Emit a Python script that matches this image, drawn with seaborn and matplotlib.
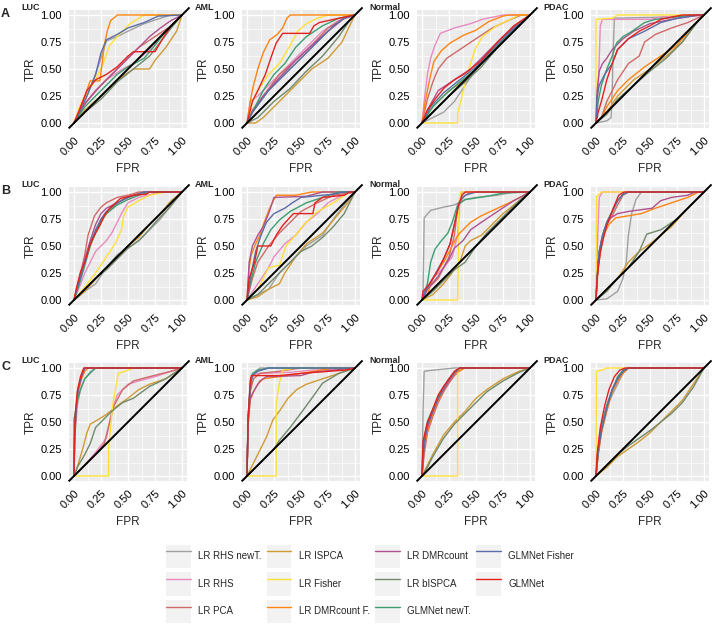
"""ROC curves of the classifiers, three feature sets (A-C) x four sample groups."""
import matplotlib
matplotlib.use("Agg")
import matplotlib.pyplot as plt
from matplotlib.legend_handler import HandlerLine2D
from matplotlib.lines import Line2D
from matplotlib.patches import Rectangle
from matplotlib.ticker import MultipleLocator
import pandas as pd
import seaborn as sns

METHODS = ["LR RHS newT.", "LR RHS", "LR PCA", "LR ISPCA", "LR Fisher",
           "LR DMRcount F.", "LR DMRcount", "LR bISPCA", "GLMNet newT.",
           "GLMNet Fisher", "GLMNet"]
KEYS = ["rhsT", "rhs", "pca", "ispca", "fisher", "dmrF", "dmr", "bispca",
        "glmT", "glmF", "glm"]
COLORS = ["#A0A0A0", "#E98BC0", "#D06A68", "#D09A35", "#FFE03A", "#FF8411",
          "#B0518F", "#71896A", "#3C9E70", "#5B6DA6", "#E4211F"]
ROWS = ["A", "B", "C"]
GROUPS = ["LUC", "AML", "Normal", "PDAC"]
TICKS = [0.0, 0.25, 0.5, 0.75, 1.0]
TICK_LABELS = ["0.00", "0.25", "0.50", "0.75", "1.00"]

# (FPR, TPR) points
A_LUC = {
    "rhsT": [(0, 0), (0.05, 0.1), (0.12, 0.25), (0.2, 0.45), (0.25, 0.6), (0.3, 0.76), (0.4, 0.8), (0.5, 0.85), (0.65, 0.92), (0.8, 0.97), (0.9, 1), (1, 1)],
    "rhs": [(0, 0), (0.05, 0.1), (0.12, 0.2), (0.2, 0.3), (0.3, 0.4), (0.45, 0.5), (0.55, 0.55), (0.7, 0.68), (0.85, 0.85), (1, 1)],
    "pca": [(0, 0), (0.08, 0.15), (0.2, 0.3), (0.35, 0.45), (0.5, 0.6), (0.6, 0.7), (0.75, 0.8), (0.9, 0.9), (1, 1)],
    "ispca": [(0, 0), (0.1, 0.12), (0.25, 0.25), (0.4, 0.4), (0.55, 0.5), (0.7, 0.5), (0.75, 0.58), (0.85, 0.7), (0.95, 0.85), (1, 1)],
    "fisher": [(0, 0), (0.05, 0.15), (0.12, 0.28), (0.2, 0.4), (0.27, 0.55), (0.33, 0.72), (0.42, 0.82), (0.52, 0.92), (0.6, 0.97), (0.65, 1), (1, 1)],
    "dmrF": [(0, 0), (0.05, 0.12), (0.1, 0.25), (0.15, 0.39), (0.24, 0.39), (0.26, 0.55), (0.28, 0.72), (0.31, 0.86), (0.34, 0.95), (0.38, 0.98), (0.4, 1), (1, 1)],
    "dmr": [(0, 0), (0.1, 0.18), (0.25, 0.35), (0.35, 0.45), (0.5, 0.6), (0.6, 0.7), (0.7, 0.8), (0.8, 0.88), (0.9, 0.95), (1, 1)],
    "bispca": [(0, 0), (0.1, 0.1), (0.25, 0.22), (0.4, 0.38), (0.55, 0.5), (0.7, 0.62), (0.8, 0.75), (0.9, 0.88), (1, 1)],
    "glmT": [(0, 0), (0.1, 0.15), (0.25, 0.3), (0.4, 0.45), (0.5, 0.52), (0.65, 0.6), (0.75, 0.72), (0.85, 0.85), (0.95, 0.95), (1, 1)],
    "glmF": [(0, 0), (0.05, 0.1), (0.12, 0.25), (0.2, 0.45), (0.25, 0.65), (0.3, 0.77), (0.4, 0.82), (0.5, 0.88), (0.65, 0.93), (0.78, 0.99), (1, 1)],
    "glm": [(0, 0), (0.05, 0.12), (0.12, 0.3), (0.2, 0.4), (0.3, 0.45), (0.4, 0.52), (0.5, 0.62), (0.55, 0.66), (0.75, 0.66), (0.82, 0.78), (0.9, 0.9), (1, 1)],
}
A_AML = {
    "rhsT": [(0, 0), (0.05, 0.1), (0.15, 0.25), (0.3, 0.42), (0.45, 0.55), (0.6, 0.7), (0.75, 0.85), (0.9, 0.97), (1, 1)],
    "rhs": [(0, 0), (0.03, 0.2), (0.1, 0.25), (0.25, 0.4), (0.4, 0.55), (0.55, 0.7), (0.7, 0.85), (0.85, 0.95), (1, 1)],
    "pca": [(0, 0), (0.05, 0.12), (0.15, 0.25), (0.3, 0.45), (0.45, 0.58), (0.6, 0.72), (0.75, 0.88), (0.9, 0.97), (1, 1)],
    "ispca": [(0, 0), (0.08, 0), (0.15, 0.05), (0.3, 0.2), (0.45, 0.35), (0.6, 0.5), (0.75, 0.6), (0.88, 0.75), (0.95, 0.9), (1, 1)],
    "fisher": [(0, 0), (0.05, 0.2), (0.1, 0.3), (0.2, 0.45), (0.3, 0.55), (0.4, 0.72), (0.47, 0.85), (0.55, 0.92), (0.65, 0.97), (0.75, 1), (1, 1)],
    "dmrF": [(0, 0), (0.03, 0.2), (0.06, 0.35), (0.1, 0.5), (0.15, 0.65), (0.21, 0.77), (0.28, 0.82), (0.33, 0.88), (0.37, 0.97), (0.4, 1), (1, 1)],
    "dmr": [(0, 0), (0.05, 0.1), (0.15, 0.25), (0.3, 0.42), (0.45, 0.58), (0.6, 0.72), (0.75, 0.85), (0.9, 0.97), (1, 1)],
    "bispca": [(0, 0), (0.1, 0.05), (0.25, 0.2), (0.4, 0.32), (0.55, 0.48), (0.7, 0.62), (0.85, 0.8), (0.95, 0.95), (1, 1)],
    "glmT": [(0, 0), (0.05, 0.1), (0.15, 0.3), (0.25, 0.45), (0.35, 0.55), (0.45, 0.7), (0.55, 0.8), (0.7, 0.9), (0.85, 0.97), (1, 1)],
    "glmF": [(0, 0), (0.05, 0.1), (0.2, 0.3), (0.35, 0.45), (0.5, 0.6), (0.65, 0.75), (0.8, 0.9), (0.9, 0.97), (1, 1)],
    "glm": [(0, 0), (0.05, 0.2), (0.1, 0.3), (0.17, 0.45), (0.22, 0.6), (0.27, 0.74), (0.33, 0.83), (0.58, 0.83), (0.62, 0.9), (0.67, 0.93), (0.85, 0.97), (1, 1)],
}
A_NORMAL = {
    "rhsT": [(0, 0), (0.1, 0.05), (0.2, 0.1), (0.3, 0.2), (0.4, 0.35), (0.5, 0.5), (0.6, 0.65), (0.75, 0.8), (0.9, 0.93), (1, 1)],
    "rhs": [(0, 0), (0.02, 0.2), (0.05, 0.45), (0.08, 0.6), (0.12, 0.72), (0.17, 0.83), (0.3, 0.88), (0.45, 0.92), (0.56, 0.96), (0.75, 1), (1, 1)],
    "pca": [(0, 0), (0.05, 0.22), (0.1, 0.38), (0.15, 0.5), (0.23, 0.6), (0.35, 0.68), (0.5, 0.78), (0.65, 0.88), (0.8, 0.95), (0.92, 1), (1, 1)],
    "ispca": [(0, 0), (0.1, 0.15), (0.25, 0.3), (0.4, 0.4), (0.55, 0.55), (0.7, 0.72), (0.85, 0.88), (1, 1)],
    "fisher": [(0, 0), (0.33, 0), (0.33, 0.09), (0.4, 0.37), (0.45, 0.55), (0.49, 0.68), (0.56, 0.8), (0.69, 0.9), (0.84, 0.97), (0.9, 1), (1, 1)],
    "dmrF": [(0, 0), (0.03, 0.2), (0.07, 0.4), (0.11, 0.57), (0.18, 0.67), (0.26, 0.74), (0.38, 0.81), (0.5, 0.86), (0.62, 0.94), (0.75, 0.99), (0.8, 1), (1, 1)],
    "dmr": [(0, 0), (0.05, 0.12), (0.15, 0.3), (0.3, 0.4), (0.45, 0.5), (0.6, 0.65), (0.75, 0.8), (0.9, 0.93), (1, 1)],
    "bispca": [(0, 0), (0.1, 0.1), (0.25, 0.25), (0.4, 0.38), (0.55, 0.52), (0.7, 0.7), (0.85, 0.85), (1, 1)],
    "glmT": [(0, 0), (0.1, 0.15), (0.2, 0.25), (0.35, 0.38), (0.5, 0.5), (0.65, 0.66), (0.8, 0.82), (0.9, 0.92), (1, 1)],
    "glmF": [(0, 0), (0.08, 0.15), (0.2, 0.28), (0.35, 0.4), (0.5, 0.52), (0.65, 0.68), (0.8, 0.83), (1, 1)],
    "glm": [(0, 0), (0.05, 0.12), (0.12, 0.22), (0.2, 0.32), (0.3, 0.4), (0.4, 0.46), (0.55, 0.58), (0.7, 0.75), (0.85, 0.9), (1, 1)],
}
A_PDAC = {
    "rhsT": [(0, 0), (0.1, 0.02), (0.14, 0.05), (0.15, 0.3), (0.16, 0.7), (0.17, 0.97), (0.6, 0.98), (0.9, 1), (1, 1)],
    "rhs": [(0, 0), (0.02, 0.3), (0.03, 0.6), (0.04, 0.9), (0.06, 0.96), (0.5, 0.96), (0.6, 0.98), (0.85, 1), (1, 1)],
    "pca": [(0, 0), (0.05, 0.05), (0.1, 0.2), (0.2, 0.4), (0.3, 0.55), (0.4, 0.62), (0.45, 0.75), (0.55, 0.82), (0.7, 0.88), (0.85, 0.93), (1, 1)],
    "ispca": [(0, 0), (0.1, 0.1), (0.2, 0.25), (0.35, 0.4), (0.5, 0.5), (0.65, 0.62), (0.8, 0.75), (0.92, 0.92), (1, 1)],
    "fisher": [(0, 0), (0, 0.96), (0.15, 0.97), (0.2, 1), (1, 1)],
    "dmrF": [(0, 0), (0.05, 0.05), (0.1, 0.15), (0.2, 0.3), (0.3, 0.4), (0.45, 0.52), (0.6, 0.62), (0.75, 0.72), (0.9, 0.9), (1, 1)],
    "dmr": [(0, 0), (0.01, 0.3), (0.03, 0.48), (0.06, 0.55), (0.1, 0.6), (0.15, 0.68), (0.25, 0.78), (0.35, 0.85), (0.5, 0.92), (0.7, 0.96), (0.9, 0.99), (1, 1)],
    "bispca": [(0, 0), (0.1, 0.08), (0.2, 0.22), (0.35, 0.35), (0.5, 0.48), (0.65, 0.6), (0.8, 0.75), (0.95, 0.95), (1, 1)],
    "glmT": [(0, 0), (0.02, 0.2), (0.05, 0.35), (0.1, 0.5), (0.15, 0.62), (0.19, 0.74), (0.25, 0.8), (0.32, 0.84), (0.45, 0.93), (0.55, 0.96), (0.9, 1), (1, 1)],
    "glmF": [(0, 0), (0.01, 0.25), (0.03, 0.35), (0.08, 0.45), (0.15, 0.55), (0.2, 0.68), (0.3, 0.78), (0.45, 0.85), (0.6, 0.93), (0.75, 0.97), (0.95, 1), (1, 1)],
    "glm": [(0, 0), (0.02, 0.1), (0.05, 0.2), (0.1, 0.4), (0.15, 0.55), (0.2, 0.68), (0.3, 0.78), (0.4, 0.85), (0.5, 0.9), (0.6, 0.96), (0.8, 1), (1, 1)],
}
B_LUC = {
    "rhsT": [(0, 0), (0.1, 0.08), (0.2, 0.15), (0.3, 0.3), (0.4, 0.42), (0.5, 0.48), (0.6, 0.55), (0.7, 0.65), (0.8, 0.75), (0.9, 0.88), (1, 1)],
    "rhs": [(0, 0), (0.05, 0.12), (0.1, 0.25), (0.2, 0.45), (0.3, 0.55), (0.35, 0.62), (0.4, 0.72), (0.45, 0.82), (0.5, 0.9), (0.6, 0.95), (0.8, 1), (1, 1)],
    "pca": [(0, 0), (0.05, 0.2), (0.1, 0.42), (0.13, 0.6), (0.19, 0.78), (0.25, 0.86), (0.3, 0.9), (0.4, 0.95), (0.5, 0.97), (0.6, 1), (1, 1)],
    "ispca": [(0, 0), (0.1, 0.08), (0.25, 0.25), (0.4, 0.4), (0.5, 0.5), (0.6, 0.58), (0.7, 0.7), (0.8, 0.8), (0.9, 0.92), (1, 1)],
    "fisher": [(0, 0), (0.1, 0.12), (0.2, 0.25), (0.3, 0.4), (0.38, 0.52), (0.44, 0.65), (0.46, 0.78), (0.5, 0.86), (0.6, 0.92), (0.7, 0.97), (0.85, 1), (1, 1)],
    "dmrF": [(0, 0), (0.05, 0.2), (0.1, 0.35), (0.15, 0.5), (0.2, 0.62), (0.25, 0.72), (0.3, 0.8), (0.37, 0.87), (0.45, 0.93), (0.55, 0.97), (0.65, 1), (1, 1)],
    "dmr": [(0, 0), (0.05, 0.2), (0.1, 0.38), (0.15, 0.55), (0.2, 0.7), (0.25, 0.8), (0.3, 0.85), (0.4, 0.9), (0.5, 0.95), (0.65, 1), (1, 1)],
    "bispca": [(0, 0), (0.1, 0.1), (0.2, 0.2), (0.3, 0.28), (0.4, 0.38), (0.5, 0.48), (0.6, 0.55), (0.65, 0.6), (0.72, 0.68), (0.78, 0.75), (0.88, 0.85), (1, 1)],
    "glmT": [(0, 0), (0.05, 0.15), (0.1, 0.32), (0.15, 0.5), (0.2, 0.63), (0.25, 0.73), (0.3, 0.8), (0.4, 0.88), (0.5, 0.93), (0.6, 0.97), (0.7, 1), (1, 1)],
    "glmF": [(0, 0), (0.05, 0.18), (0.1, 0.35), (0.15, 0.52), (0.2, 0.65), (0.25, 0.75), (0.3, 0.82), (0.4, 0.9), (0.5, 0.95), (0.65, 1), (1, 1)],
    "glm": [(0, 0), (0.02, 0.1), (0.06, 0.26), (0.1, 0.35), (0.15, 0.52), (0.2, 0.62), (0.24, 0.69), (0.28, 0.78), (0.33, 0.85), (0.43, 0.94), (0.55, 0.97), (0.67, 0.98), (0.7, 1), (1, 1)],
}
B_AML = {
    "rhsT": [(0, 0), (0.1, 0.05), (0.2, 0.1), (0.3, 0.25), (0.4, 0.35), (0.55, 0.5), (0.7, 0.6), (0.8, 0.75), (0.9, 0.88), (1, 1)],
    "rhs": [(0, 0), (0.1, 0.15), (0.2, 0.3), (0.25, 0.4), (0.35, 0.52), (0.45, 0.6), (0.55, 0.72), (0.65, 0.8), (0.75, 0.9), (0.9, 0.98), (1, 1)],
    "pca": [(0, 0), (0.05, 0.2), (0.1, 0.35), (0.2, 0.5), (0.3, 0.62), (0.4, 0.72), (0.5, 0.82), (0.65, 0.9), (0.8, 0.97), (1, 1)],
    "ispca": [(0, 0), (0.1, 0.03), (0.2, 0.1), (0.3, 0.15), (0.35, 0.25), (0.45, 0.4), (0.55, 0.52), (0.7, 0.62), (0.85, 0.8), (0.95, 0.92), (1, 1)],
    "fisher": [(0, 0), (0.1, 0.1), (0.2, 0.3), (0.3, 0.32), (0.36, 0.5), (0.45, 0.6), (0.52, 0.69), (0.64, 0.81), (0.8, 0.9), (0.95, 1), (1, 1)],
    "dmrF": [(0, 0), (0.02, 0.3), (0.04, 0.42), (0.08, 0.52), (0.12, 0.6), (0.16, 0.72), (0.21, 0.85), (0.27, 0.97), (0.45, 0.97), (0.6, 1), (1, 1)],
    "dmr": [(0, 0), (0.02, 0.35), (0.05, 0.5), (0.1, 0.6), (0.15, 0.68), (0.2, 0.8), (0.25, 0.95), (0.55, 0.96), (0.7, 1), (1, 1)],
    "bispca": [(0, 0), (0.1, 0.05), (0.2, 0.15), (0.3, 0.25), (0.4, 0.35), (0.5, 0.45), (0.6, 0.5), (0.7, 0.58), (0.8, 0.68), (0.9, 0.8), (1, 1)],
    "glmT": [(0, 0), (0.03, 0.15), (0.08, 0.35), (0.15, 0.52), (0.22, 0.65), (0.3, 0.74), (0.4, 0.82), (0.55, 0.9), (0.7, 0.95), (0.85, 1), (1, 1)],
    "glmF": [(0, 0), (0.03, 0.2), (0.08, 0.45), (0.13, 0.6), (0.18, 0.72), (0.25, 0.8), (0.35, 0.85), (0.42, 0.9), (0.5, 0.95), (0.8, 0.98), (0.9, 1), (1, 1)],
    "glm": [(0, 0), (0.02, 0.2), (0.07, 0.35), (0.1, 0.5), (0.22, 0.5), (0.27, 0.6), (0.33, 0.69), (0.43, 0.8), (0.61, 0.8), (0.63, 0.9), (0.7, 0.95), (0.9, 0.97), (0.95, 1), (1, 1)],
}
B_NORMAL = {
    "rhsT": [(0, 0), (0.01, 0.1), (0.015, 0.4), (0.02, 0.76), (0.08, 0.83), (0.2, 0.86), (0.3, 0.88), (0.4, 0.93), (0.5, 0.95), (0.7, 0.97), (0.85, 1), (1, 1)],
    "rhs": [(0, 0), (0.05, 0.1), (0.1, 0.2), (0.2, 0.3), (0.28, 0.4), (0.33, 0.6), (0.35, 0.9), (0.37, 1), (1, 1)],
    "pca": [(0, 0), (0.05, 0.1), (0.15, 0.2), (0.25, 0.4), (0.3, 0.6), (0.33, 0.85), (0.37, 0.95), (0.45, 1), (1, 1)],
    "ispca": [(0, 0), (0.1, 0.05), (0.2, 0.15), (0.3, 0.28), (0.35, 0.35), (0.4, 0.5), (0.45, 0.55), (0.55, 0.6), (0.65, 0.7), (0.75, 0.8), (0.9, 0.92), (1, 1)],
    "fisher": [(0, 0), (0.33, 0), (0.335, 0.3), (0.34, 0.9), (0.36, 1), (1, 1)],
    "dmrF": [(0, 0), (0.05, 0.05), (0.1, 0.2), (0.2, 0.35), (0.28, 0.5), (0.32, 0.58), (0.35, 0.62), (0.45, 0.72), (0.55, 0.78), (0.7, 0.85), (0.85, 0.92), (1, 1)],
    "dmr": [(0, 0), (0.05, 0.1), (0.15, 0.22), (0.25, 0.38), (0.3, 0.48), (0.38, 0.55), (0.45, 0.65), (0.55, 0.72), (0.7, 0.82), (0.85, 0.92), (1, 1)],
    "bispca": [(0, 0), (0.1, 0.08), (0.2, 0.18), (0.3, 0.28), (0.4, 0.35), (0.5, 0.5), (0.6, 0.62), (0.7, 0.72), (0.8, 0.82), (0.9, 0.92), (1, 1)],
    "glmT": [(0, 0), (0.05, 0.15), (0.08, 0.35), (0.12, 0.47), (0.18, 0.55), (0.24, 0.62), (0.28, 0.72), (0.33, 0.88), (0.4, 0.93), (0.6, 0.96), (0.75, 0.99), (1, 1)],
    "glmF": [(0, 0), (0.03, 0.08), (0.1, 0.2), (0.2, 0.38), (0.26, 0.52), (0.3, 0.7), (0.34, 0.9), (0.4, 0.97), (0.5, 1), (1, 1)],
    "glm": [(0, 0), (0.01, 0.08), (0.07, 0.15), (0.14, 0.26), (0.2, 0.38), (0.26, 0.52), (0.3, 0.7), (0.34, 0.88), (0.37, 0.97), (0.4, 1), (1, 1)],
}
B_PDAC = {
    "rhsT": [(0, 0), (0.1, 0.01), (0.2, 0.08), (0.25, 0.2), (0.28, 0.35), (0.3, 0.6), (0.33, 0.8), (0.37, 0.93), (0.42, 1), (1, 1)],
    "rhs": [(0, 0), (0.01, 0.4), (0.02, 0.7), (0.03, 0.95), (0.06, 1), (1, 1)],
    "pca": [(0, 0), (0.01, 0.25), (0.03, 0.45), (0.06, 0.58), (0.1, 0.7), (0.15, 0.78), (0.2, 0.88), (0.25, 0.97), (0.3, 1), (1, 1)],
    "ispca": [(0, 0), (0.1, 0.1), (0.2, 0.2), (0.3, 0.35), (0.4, 0.45), (0.5, 0.52), (0.6, 0.6), (0.7, 0.68), (0.85, 0.85), (1, 1)],
    "fisher": [(0, 0), (0.005, 0.96), (0.02, 0.97), (0.05, 1), (1, 1)],
    "dmrF": [(0, 0), (0.02, 0.3), (0.05, 0.5), (0.08, 0.62), (0.12, 0.7), (0.18, 0.76), (0.3, 0.78), (0.42, 0.8), (0.55, 0.85), (0.7, 0.9), (0.85, 0.95), (0.95, 1), (1, 1)],
    "dmr": [(0, 0), (0.02, 0.35), (0.05, 0.55), (0.08, 0.66), (0.12, 0.75), (0.2, 0.8), (0.3, 0.82), (0.52, 0.85), (0.6, 0.92), (0.7, 0.95), (0.85, 0.97), (0.92, 1), (1, 1)],
    "bispca": [(0, 0), (0.1, 0.08), (0.2, 0.2), (0.3, 0.3), (0.4, 0.45), (0.47, 0.61), (0.6, 0.65), (0.75, 0.75), (0.9, 0.9), (1, 1)],
    "glmT": [(0, 0), (0.01, 0.2), (0.03, 0.45), (0.06, 0.58), (0.1, 0.72), (0.15, 0.82), (0.2, 0.92), (0.25, 0.98), (0.3, 1), (1, 1)],
    "glmF": [(0, 0), (0.01, 0.2), (0.03, 0.45), (0.06, 0.6), (0.1, 0.72), (0.15, 0.82), (0.2, 0.92), (0.25, 0.98), (0.3, 1), (1, 1)],
    "glm": [(0, 0), (0.01, 0.2), (0.04, 0.44), (0.07, 0.58), (0.1, 0.69), (0.16, 0.85), (0.21, 0.97), (0.26, 1), (1, 1)],
}
C_LUC = {
    "rhsT": [(0, 0), (0.01, 0.4), (0.03, 0.65), (0.06, 0.8), (0.1, 0.9), (0.15, 0.95), (0.2, 1), (1, 1)],
    "rhs": [(0, 0), (0.1, 0.1), (0.2, 0.22), (0.3, 0.35), (0.35, 0.6), (0.4, 0.75), (0.5, 0.85), (0.6, 0.88), (0.75, 0.92), (0.9, 0.97), (1, 1)],
    "pca": [(0, 0), (0.1, 0.1), (0.2, 0.2), (0.28, 0.3), (0.33, 0.5), (0.37, 0.65), (0.45, 0.8), (0.55, 0.88), (0.7, 0.92), (0.9, 0.97), (1, 1)],
    "ispca": [(0, 0), (0.03, 0.08), (0.08, 0.25), (0.12, 0.4), (0.15, 0.48), (0.22, 0.52), (0.3, 0.57), (0.4, 0.65), (0.5, 0.72), (0.6, 0.8), (0.7, 0.85), (0.85, 0.9), (1, 1)],
    "fisher": [(0, 0), (0.32, 0), (0.32, 0.26), (0.36, 0.67), (0.41, 0.95), (0.5, 0.98), (0.55, 1), (1, 1)],
    "dmrF": [(0, 0), (0.01, 0.4), (0.02, 0.6), (0.04, 0.78), (0.07, 0.9), (0.1, 0.97), (0.13, 1), (1, 1)],
    "dmr": [(0, 0), (0.005, 0.35), (0.02, 0.6), (0.04, 0.8), (0.07, 0.92), (0.1, 1), (1, 1)],
    "bispca": [(0, 0), (0.03, 0.08), (0.1, 0.2), (0.15, 0.3), (0.2, 0.45), (0.25, 0.5), (0.35, 0.6), (0.45, 0.68), (0.55, 0.72), (0.7, 0.83), (0.85, 0.9), (1, 1)],
    "glmT": [(0, 0), (0, 0.52), (0.03, 0.7), (0.06, 0.8), (0.1, 0.9), (0.15, 0.96), (0.2, 1), (1, 1)],
    "glmF": [(0, 0), (0.005, 0.35), (0.02, 0.65), (0.04, 0.82), (0.07, 0.93), (0.1, 1), (1, 1)],
    "glm": [(0, 0), (0.005, 0.35), (0.01, 0.55), (0.03, 0.78), (0.06, 0.92), (0.09, 1), (1, 1)],
}
C_AML = {
    "rhsT": [(0, 0), (0.01, 0.5), (0.03, 0.8), (0.05, 0.92), (0.08, 0.97), (0.12, 1), (1, 1)],
    "rhs": [(0, 0), (0.01, 0.5), (0.03, 0.8), (0.05, 0.92), (0.1, 0.95), (0.4, 0.96), (0.6, 0.98), (1, 1)],
    "pca": [(0, 0), (0.01, 0.5), (0.03, 0.78), (0.06, 0.9), (0.12, 0.95), (0.3, 0.97), (0.5, 1), (1, 1)],
    "ispca": [(0, 0), (0.05, 0.1), (0.1, 0.2), (0.18, 0.36), (0.24, 0.52), (0.3, 0.6), (0.38, 0.72), (0.46, 0.8), (0.55, 0.85), (0.7, 0.9), (0.85, 0.95), (1, 1)],
    "fisher": [(0, 0), (0.27, 0), (0.27, 0.67), (0.3, 0.86), (0.33, 0.98), (0.45, 1), (1, 1)],
    "dmrF": [(0, 0), (0.01, 0.45), (0.03, 0.7), (0.06, 0.78), (0.1, 0.85), (0.15, 0.9), (0.3, 0.92), (0.5, 0.95), (0.8, 1), (1, 1)],
    "dmr": [(0, 0), (0.01, 0.5), (0.03, 0.72), (0.07, 0.8), (0.12, 0.88), (0.18, 0.92), (0.5, 0.93), (0.6, 0.96), (1, 1)],
    "bispca": [(0, 0), (0.05, 0.05), (0.15, 0.15), (0.25, 0.25), (0.3, 0.33), (0.4, 0.45), (0.52, 0.61), (0.6, 0.72), (0.7, 0.86), (0.85, 0.95), (1, 1)],
    "glmT": [(0, 0), (0.01, 0.55), (0.03, 0.85), (0.05, 0.95), (0.1, 0.98), (0.2, 1), (1, 1)],
    "glmF": [(0, 0), (0.01, 0.55), (0.03, 0.82), (0.05, 0.93), (0.1, 0.97), (0.2, 1), (1, 1)],
    "glm": [(0, 0), (0.01, 0.52), (0.03, 0.88), (0.04, 0.93), (0.3, 0.93), (0.5, 0.95), (0.9, 0.98), (1, 1)],
}
C_NORMAL = {
    "rhsT": [(0, 0), (0.01, 0.6), (0.02, 0.97), (0.1, 0.98), (0.3, 1), (1, 1)],
    "rhs": [(0, 0), (0.02, 0.25), (0.05, 0.42), (0.1, 0.58), (0.15, 0.7), (0.2, 0.8), (0.25, 0.88), (0.3, 0.95), (0.35, 1), (1, 1)],
    "pca": [(0, 0), (0.02, 0.2), (0.05, 0.4), (0.1, 0.55), (0.15, 0.68), (0.2, 0.78), (0.25, 0.86), (0.3, 0.93), (0.38, 1), (1, 1)],
    "ispca": [(0, 0), (0.05, 0.1), (0.1, 0.2), (0.2, 0.38), (0.3, 0.5), (0.4, 0.6), (0.5, 0.72), (0.6, 0.8), (0.75, 0.9), (0.9, 0.97), (1, 1)],
    "fisher": [(0, 0), (0.33, 0), (0.33, 0.95), (0.36, 1), (1, 1)],
    "dmrF": [(0, 0), (0.02, 0.28), (0.06, 0.45), (0.1, 0.58), (0.15, 0.7), (0.2, 0.8), (0.25, 0.88), (0.3, 0.95), (0.4, 1), (1, 1)],
    "dmr": [(0, 0), (0.02, 0.3), (0.05, 0.45), (0.1, 0.6), (0.15, 0.72), (0.2, 0.8), (0.25, 0.88), (0.3, 0.95), (0.35, 1), (1, 1)],
    "bispca": [(0, 0), (0.05, 0.08), (0.1, 0.18), (0.2, 0.35), (0.3, 0.48), (0.4, 0.58), (0.5, 0.68), (0.6, 0.78), (0.75, 0.88), (0.9, 0.96), (1, 1)],
    "glmT": [(0, 0), (0.01, 0.3), (0.05, 0.5), (0.1, 0.62), (0.15, 0.73), (0.2, 0.82), (0.25, 0.9), (0.3, 0.96), (0.35, 1), (1, 1)],
    "glmF": [(0, 0), (0.02, 0.3), (0.05, 0.48), (0.1, 0.6), (0.15, 0.72), (0.2, 0.82), (0.25, 0.9), (0.3, 0.96), (0.35, 1), (1, 1)],
    "glm": [(0, 0), (0.01, 0.32), (0.05, 0.5), (0.1, 0.62), (0.15, 0.75), (0.2, 0.83), (0.25, 0.9), (0.3, 0.97), (0.35, 1), (1, 1)],
}
C_PDAC = {
    "rhsT": [(0, 0), (0.03, 0.3), (0.06, 0.5), (0.1, 0.65), (0.15, 0.75), (0.2, 0.85), (0.25, 0.95), (0.3, 1), (1, 1)],
    "rhs": [(0, 0), (0.02, 0.25), (0.05, 0.45), (0.1, 0.65), (0.15, 0.8), (0.2, 0.9), (0.25, 0.97), (0.3, 1), (1, 1)],
    "pca": [(0, 0), (0.02, 0.2), (0.05, 0.4), (0.1, 0.6), (0.15, 0.78), (0.2, 0.88), (0.25, 0.96), (0.3, 1), (1, 1)],
    "ispca": [(0, 0), (0.1, 0.08), (0.2, 0.18), (0.3, 0.25), (0.4, 0.32), (0.5, 0.4), (0.6, 0.5), (0.7, 0.6), (0.8, 0.7), (0.9, 0.85), (1, 1)],
    "fisher": [(0, 0), (0.005, 0.97), (0.05, 0.98), (0.1, 1), (1, 1)],
    "dmrF": [(0, 0), (0.02, 0.2), (0.05, 0.4), (0.1, 0.62), (0.15, 0.78), (0.2, 0.88), (0.25, 0.95), (0.3, 1), (1, 1)],
    "dmr": [(0, 0), (0.02, 0.25), (0.05, 0.45), (0.1, 0.65), (0.15, 0.8), (0.2, 0.9), (0.25, 0.97), (0.3, 1), (1, 1)],
    "bispca": [(0, 0), (0.1, 0.1), (0.2, 0.2), (0.3, 0.28), (0.4, 0.35), (0.5, 0.42), (0.6, 0.5), (0.7, 0.58), (0.8, 0.68), (0.9, 0.82), (1, 1)],
    "glmT": [(0, 0), (0.02, 0.25), (0.05, 0.45), (0.1, 0.65), (0.15, 0.8), (0.2, 0.92), (0.25, 0.98), (0.3, 1), (1, 1)],
    "glmF": [(0, 0), (0.02, 0.22), (0.05, 0.42), (0.1, 0.63), (0.15, 0.8), (0.2, 0.9), (0.25, 0.97), (0.3, 1), (1, 1)],
    "glm": [(0, 0), (0.01, 0.2), (0.04, 0.45), (0.08, 0.65), (0.12, 0.8), (0.17, 0.92), (0.22, 0.98), (0.27, 1), (1, 1)],
}
PANELS = [[A_LUC, A_AML, A_NORMAL, A_PDAC],
          [B_LUC, B_AML, B_NORMAL, B_PDAC],
          [C_LUC, C_AML, C_NORMAL, C_PDAC]]


class KeyHandler(HandlerLine2D):
    """Legend key drawn on a light grey square, ggplot style."""

    def create_artists(self, legend, orig_handle, xdescent, ydescent,
                       width, height, fontsize, trans):
        box = Rectangle((-xdescent, -ydescent + 0.5), width, height - 1,
                        facecolor="#F2F2F2", edgecolor="none", transform=trans)
        arts = super().create_artists(legend, orig_handle, xdescent, ydescent,
                                      width, height, fontsize, trans)
        return [box] + list(arts)


def to_frame(panel):
    rows = []
    for key, method in zip(KEYS, METHODS):
        for fpr, tpr in panel[key]:
            rows.append({"method": method, "fpr": fpr, "tpr": tpr})
    return pd.DataFrame(rows)


sns.set_style("white")
plt.rcParams["font.family"] = ["Liberation Sans", "DejaVu Sans"]

W, H = 712, 626
COL_LEFT = [68.6, 241.6, 416.6, 590.6]
ROW_TOP = [9.6, 186.6, 362.6]
SIZE = 118.8

fig = plt.figure(figsize=(W / 100, H / 100), dpi=100)

for r, letter in enumerate(ROWS):
    for c, group in enumerate(GROUPS):
        ax = fig.add_axes([COL_LEFT[c] / W, 1 - (ROW_TOP[r] + SIZE) / H,
                           SIZE / W, SIZE / H])
        ax.set_facecolor("#EBEBEB")
        for s in ax.spines.values():
            s.set_visible(False)

        df = to_frame(PANELS[r][c])
        sns.lineplot(data=df, x="fpr", y="tpr", hue="method", hue_order=METHODS,
                     palette=COLORS, sort=False, estimator=None, legend=False,
                     linewidth=1.0, ax=ax)
        ax.plot([-0.05, 1.07], [-0.05, 1.07], color="black", lw=1.4,
                clip_on=False, solid_capstyle="butt")

        ax.set_xlim(-0.05, 1.05)
        ax.set_ylim(-0.05, 1.05)
        ax.xaxis.set_minor_locator(MultipleLocator(0.125))
        ax.yaxis.set_minor_locator(MultipleLocator(0.125))
        ax.set_xticks(TICKS)
        ax.set_yticks(TICKS)
        ax.set_xticklabels(TICK_LABELS, rotation=45, ha="right", va="top",
                           rotation_mode="anchor")
        ax.set_yticklabels(TICK_LABELS)
        ax.grid(which="major", color="white", lw=1.0)
        ax.grid(which="minor", color="white", lw=0.5)
        ax.set_axisbelow(True)
        ax.tick_params(which="major", length=3, width=0.8, color="black",
                       labelsize=8, pad=2, labelcolor="black")
        ax.tick_params(which="minor", length=0)

        ax.set_xlabel("FPR", fontsize=8.5)
        ax.set_ylabel("TPR", fontsize=8.5)
        ax.xaxis.set_label_coords(0.5, -0.29)
        ax.yaxis.set_label_coords(-0.27, 0.5)

        ax.text(-47 / SIZE, 1 + 2 / SIZE, group, transform=ax.transAxes,
                fontsize=6.5, fontweight="bold", ha="left", va="center")

    fig.text(1 / W, 1 - (ROW_TOP[r] + 4) / H, letter, fontsize=9,
             fontweight="bold", ha="left", va="center")

# handleheight is large because matplotlib takes a descent off the key box
handles = [Line2D([], [], color=col, lw=1.0) for col in COLORS]
fig.legend(handles, METHODS, loc="center", bbox_to_anchor=(370 / W, 1 - 584 / H),
           ncol=4, frameon=False, fontsize=7, handlelength=2.55,
           handleheight=3.55, handletextpad=0.75, columnspacing=0.55,
           labelspacing=0.3, handler_map={Line2D: KeyHandler()})

fig.savefig("out.png", dpi=100)
